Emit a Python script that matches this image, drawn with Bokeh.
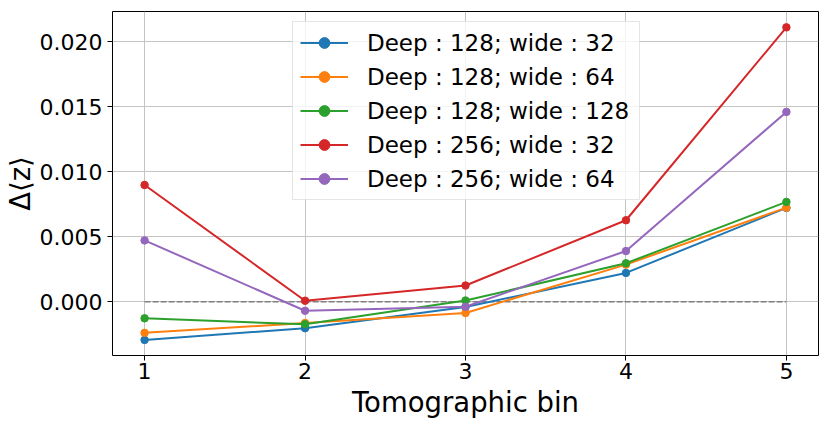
from bokeh.plotting import figure
from bokeh.models import Range1d, FixedTicker, Legend, LegendItem, PrintfTickFormatter
from bokeh.embed import file_html
from bokeh.resources import INLINE

bins = [1, 2, 3, 4, 5]
labels = ["Deep : 128; wide : 32", "Deep : 128; wide : 64", "Deep : 128; wide : 128",
          "Deep : 256; wide : 32", "Deep : 256; wide : 64"]
d128_w32 = [-0.00293, -0.00203, -0.00040, 0.00222, 0.00722]
d128_w64 = [-0.00239, -0.00163, -0.00086, 0.00286, 0.00724]
d128_w128 = [-0.00127, -0.00173, 0.00010, 0.00296, 0.00768]
d256_w32 = [0.00898, 0.00008, 0.00125, 0.00627, 0.02110]
d256_w64 = [0.00472, -0.00069, -0.00038, 0.00390, 0.01460]
series = [d128_w32, d128_w64, d128_w128, d256_w32, d256_w64]
colors = ["#1f77b4", "#ff7f0e", "#2ca02c", "#d62728", "#9467bd"]
zero_line = [0.0, 0.0]
zero_x = [1, 5]
y_ticks = [0.0, 0.005, 0.010, 0.015, 0.020]

FONT = "DejaVu Sans"

p = figure(width=826, height=420, output_backend="svg", toolbar_location=None,
           x_range=Range1d(0.8, 5.2), y_range=Range1d(-0.00413, 0.02232),
           min_border_left=112, min_border_right=8, min_border_top=11, min_border_bottom=65)
p.background_fill_color = "white"
p.border_fill_color = "white"
p.outline_line_color = "black"
p.outline_line_width = 1

p.xaxis.ticker = FixedTicker(ticks=bins)
p.yaxis.ticker = FixedTicker(ticks=y_ticks)
p.yaxis.formatter = PrintfTickFormatter(format="%.3f")
p.xaxis.axis_label = "Tomographic bin"
p.yaxis.axis_label = "Δ⟨z⟩"
for ax in (p.xaxis[0], p.yaxis[0]):
    ax.major_label_text_font = FONT
    ax.major_label_text_font_size = "22px"
    ax.major_label_text_color = "black"
    ax.axis_label_text_font = FONT
    ax.axis_label_text_font_size = "27.5px"
    ax.axis_label_text_font_style = "normal"
    ax.axis_label_text_color = "black"
    ax.major_tick_out = 5
    ax.major_tick_in = 0
    ax.minor_tick_out = 0
    ax.minor_tick_in = 0
    ax.axis_line_color = None
    ax.major_tick_line_color = "black"
p.xaxis.major_label_standoff = 2
p.xaxis.axis_label_standoff = 4
p.yaxis.major_label_standoff = 5
p.yaxis.axis_label_standoff = 1

p.xgrid.ticker = FixedTicker(ticks=bins)
p.ygrid.ticker = FixedTicker(ticks=y_ticks)
for g in (p.xgrid[0], p.ygrid[0]):
    g.grid_line_color = "#c4c4c4"
    g.grid_line_width = 1

p.line(zero_x, zero_line, line_color="gray", line_width=1.5, line_dash="6 2")

items = []
for ys, c, lab in zip(series, colors, labels):
    r1 = p.line(bins, ys, line_color=c, line_width=2)
    r2 = p.scatter(bins, ys, size=7.5, fill_color=c, line_color=c)
    items.append(LegendItem(label=lab, renderers=[r1, r2]))

legend = Legend(items=items, location=(180, 155), margin=0, padding=7, spacing=7,
                glyph_width=48, glyph_height=27, label_height=27, label_standoff=19,
                label_width=265,
                label_text_font=FONT, label_text_font_size="23px", label_text_color="black",
                border_line_color="#cccccc", border_line_width=1,
                background_fill_color="white", background_fill_alpha=0.8)
p.add_layout(legend)

open("out.html", "w").write(file_html(p, INLINE))
